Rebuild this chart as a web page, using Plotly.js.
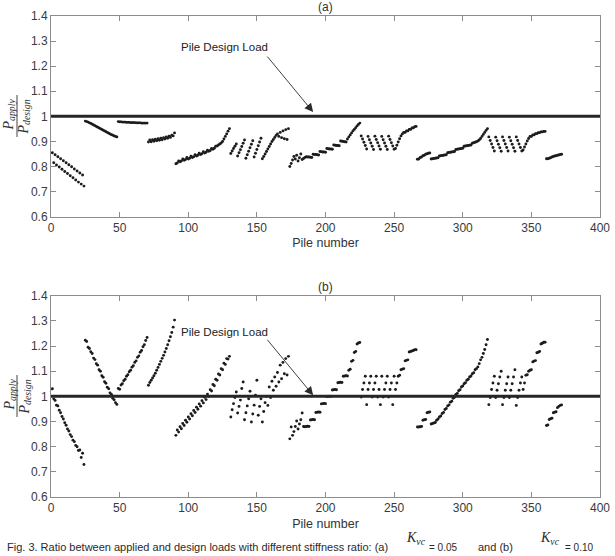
<!DOCTYPE html>
<html>
<head>
<meta charset="utf-8">
<script src="https://cdn.plot.ly/plotly-3.0.1.min.js"></script>
<style>
  html, body { margin: 0; padding: 0; background: #ffffff; }
  #chart { width: 615px; height: 556px; }
</style>
</head>
<body>
<div id="chart"></div>
<script>
// First pile number of each pile group (same grouping in both cases)
const groupStart = [1, 25, 49, 71, 91, 131, 174, 226, 267, 319, 361];

// Design load ratio
const designRatio = 1.0;

// (a) P_apply / P_design per pile group
const a01 = [0.855,0.815,0.847,0.806,0.839,0.798,0.831,0.789,0.823,0.780,0.815,0.772,0.807,0.763,0.799,0.755,0.790,0.746,0.782,0.738,0.774,0.730,0.766,0.722];
const a02 = [0.981,0.979,0.977,0.974,0.972,0.969,0.966,0.963,0.960,0.957,0.954,0.951,0.948,0.945,0.942,0.939,0.936,0.933,0.930,0.927,0.925,0.922,0.920,0.918];
const a03 = [0.979,0.978,0.978,0.977,0.977,0.977,0.976,0.976,0.976,0.975,0.975,0.975,0.975,0.974,0.974,0.974,0.974,0.973,0.973,0.973,0.973,0.973];
const a04 = [0.898,0.906,0.899,0.907,0.901,0.909,0.903,0.911,0.905,0.913,0.907,0.915,0.910,0.918,0.913,0.921,0.916,0.925,0.922,0.934];
const a05 = [0.811,0.814,0.822,0.819,0.822,0.830,0.825,0.828,0.836,0.830,0.833,0.841,0.836,0.839,0.847,0.842,0.845,0.853,0.848,0.851,
             0.859,0.854,0.857,0.865,0.861,0.864,0.872,0.869,0.873,0.881,0.882,0.886,0.890,0.894,0.900,0.910,0.920,0.930,0.941,0.951];
const a06 = [0.852,0.862,0.872,0.881,0.890, 0.842,0.855,0.867,0.880,0.893,0.906, 0.833,0.847,0.861,0.875,0.889,0.903,
             0.838,0.853,0.868,0.883,0.898,0.913, 0.831,0.840,0.850,0.860,0.870,0.880,0.890,0.900,0.908,0.916,0.924,
             0.930,0.920,0.936,0.915,0.942,0.911,0.947,0.908,0.951];
const a07 = [0.800,0.812,0.826,0.840,0.830,0.845,0.822,0.835,0.850,0.828,0.832,0.836,
             0.839,0.838,0.838,0.837,0.836, 0.849,0.848,0.848,0.847,0.846, 0.860,0.859,0.858,0.858,0.857,
             0.872,0.871,0.870,0.870,0.869, 0.886,0.885,0.884,0.884,0.883, 0.902,0.901,0.900,0.899,0.898,
             0.910,0.918,0.926,0.934,0.942,0.948,0.955,0.962,0.968,0.973];
const a08 = [0.922,0.910,0.897,0.884,0.870, 0.920,0.907,0.894,0.881,0.868, 0.921,0.908,0.895,0.882,0.869,
             0.920,0.907,0.894,0.881,0.868, 0.921,0.908,0.895,0.882,0.869,
             0.872,0.885,0.898,0.911,0.922,0.930,0.936,0.936,0.942,0.942,0.948,0.948,0.954,0.954,0.959,0.960];
const a09 = [0.829,0.830,0.836,0.838,0.843,0.845,0.849,0.851,0.853,0.854,
             0.830,0.831,0.832,0.833,0.834,0.835, 0.842,0.843,0.844,0.845,0.846,0.847, 0.855,0.856,0.857,0.858,0.859,0.860,
             0.868,0.869,0.870,0.871,0.872,0.873, 0.881,0.882,0.883,0.884,0.885,0.886, 0.893,0.895,0.897,0.899,0.902,0.906,
             0.912,0.920,0.928,0.936,0.944,0.951];
const a10 = [0.918,0.904,0.890,0.876,0.862, 0.917,0.903,0.889,0.875,0.861, 0.918,0.904,0.890,0.876,0.862,
             0.917,0.903,0.889,0.875,0.861, 0.918,0.904,0.890,0.876,0.862,
             0.866,0.878,0.890,0.902,0.912,0.920,0.920,0.926,0.926,0.931,0.931,0.935,0.935,0.938,0.938,0.940,0.940];
const a11 = [0.831,0.831,0.833,0.835,0.838,0.840,0.842,0.843,0.845,0.846,0.848,0.849];

// (b) P_apply / P_design per pile group
const b01 = [1.030,0.990,0.984,0.965,0.962,0.945,0.935,0.920,0.910,0.895,0.885,0.870,0.862,0.848,0.840,0.826,0.820,0.805,0.800,0.785,0.787,0.757,0.774,0.729];
const b02 = [1.223,1.218,1.195,1.190,1.177,1.170,1.152,1.146,1.130,1.124,1.106,1.100,1.082,1.076,1.058,1.052,1.036,1.030,1.014,1.008,0.992,0.986,0.975,0.968];
const b03 = [1.031,1.028,1.045,1.050,1.062,1.068,1.080,1.086,1.098,1.104,1.116,1.122,1.135,1.141,1.155,1.161,1.175,1.182,1.197,1.205,1.222,1.234];
const b04 = [1.044,1.055,1.064,1.073,1.082,1.092,1.104,1.115,1.127,1.139,1.151,1.163,1.176,1.190,1.205,1.221,1.237,1.254,1.275,1.303];
const b05 = [0.845,0.866,0.858,0.879,0.871,0.892,0.884,0.905,0.897,0.918,0.910,0.931,0.923,0.944,0.936,0.957,0.949,0.970,0.961,0.983,
             0.974,0.996,0.987,1.009,1.000,1.026,1.021,1.047,1.042,1.068,1.064,1.089,1.085,1.110,1.106,1.132,1.127,1.150,1.148,1.159];
const b06 = [0.918,0.947,0.971,0.995,1.017, 0.934,0.960,0.985,1.031,1.057, 0.907,0.935,0.962,0.990,1.020, 0.898,0.930,0.965,1.005,1.064,
             0.925,0.960,0.990,0.898,0.940,0.975,1.000,0.964,1.037,0.995,1.060,1.024,1.077,1.040,1.095,1.057,1.124,1.070,1.135,1.090,1.150,1.085,1.159];
const b07 = [0.831,0.878,0.845,0.860,0.880,0.902,0.870,0.890,0.907,0.934,0.880,
             0.879,0.880,0.881,0.880, 0.906,0.907,0.908,0.907, 0.936,0.937,0.938,0.937, 0.970,0.971,0.972,0.971,
             0.999,1.000,1.001,1.000, 1.025,1.026,1.027,1.026, 1.054,1.055,1.056,1.055, 1.080,1.081,1.082,1.081,
             1.104,1.108,1.139,1.143,1.174,1.178,1.208,1.212,1.214];
const b08 = [0.997,1.027,1.053,1.080, 0.967,1.027,1.053,1.080, 0.997,1.027,1.053,1.080, 0.997,1.027,0.967,1.080,
             0.997,1.027,1.053,1.080, 0.997,1.027,1.053,0.967,1.080,
             1.027,1.053,1.080,1.084,1.106,1.108,1.110,1.141,1.143,1.145,1.176,1.178,1.180,1.182,1.185,1.185];
const b09 = [0.878,0.878,0.879,0.880,0.905,0.907,0.908,0.935,0.937,0.938,0.890,0.892,0.894,0.896,
             0.905,0.910,0.918,0.922,0.932,0.936,0.948,0.952,0.962,0.966,0.977,0.981,0.992,0.996,1.008,1.012,1.022,1.026,1.037,1.041,
             1.050,1.054,1.064,1.068,1.077,1.081,1.090,1.094,1.106,1.110,1.117,1.130,1.145,1.155,1.170,1.186,1.205,1.226];
const b10 = [0.967,0.995,1.027,1.053,1.080, 0.995,1.024,1.050,1.077,1.100, 0.967,0.995,1.024,1.050,1.077,
             0.995,1.024,1.050,1.077,1.106, 0.964,0.995,1.024,1.053,1.077,
             1.027,1.053,1.084,1.086,1.100,1.104,1.106,1.137,1.140,1.142,1.173,1.175,1.178,1.208,1.211,1.215,1.215];
const b11 = [0.884,0.886,0.908,0.911,0.913,0.935,0.937,0.939,0.955,0.960,0.964,0.966];

const groupsA = [a01, a02, a03, a04, a05, a06, a07, a08, a09, a10, a11];
const groupsB = [b01, b02, b03, b04, b05, b06, b07, b08, b09, b10, b11];

// Pile numbers run on from each group's first pile
function pileNumbers(groups) {
  const out = [];
  groups.forEach((g, k) => g.forEach((_, i) => out.push(groupStart[k] + i)));
  return out;
}
const flat = groups => [].concat(...groups);

// Page geometry (pixels) and conversion to paper coordinates
const W = 615, H = 556;
const M = {l: 51, r: 15, t: 16, b: 59};
const plotW = W - M.l - M.r, plotH = H - M.t - M.b;
const px = v => (v - M.l) / plotW;
const py = v => (H - M.b - v) / plotH;

const sans = 'Liberation Sans, Arial, Helvetica, sans-serif';
const serif = 'Liberation Serif, Times New Roman, serif';
const axisGrey = '#8c8c8c';
const dotColour = '#1c1c1c';

function xAxis(anchor) {
  return {
    anchor: anchor, domain: [0, 1], range: [0, 400], tick0: 0, dtick: 50,
    showline: true, linecolor: axisGrey, linewidth: 1, mirror: 'ticks',
    ticks: 'inside', ticklen: 5, tickcolor: axisGrey, tickwidth: 1,
    showgrid: false, zeroline: false,
    tickfont: {family: sans, size: 12, color: '#3a3a3a'},
    title: {text: 'Pile number', font: {family: sans, size: 12.5, color: '#333'}, standoff: 4}
  };
}
function yAxis(anchor, domain) {
  return {
    anchor: anchor, domain: domain, range: [0.6, 1.4], tick0: 0.6, dtick: 0.1,
    showline: true, linecolor: axisGrey, linewidth: 1, mirror: 'ticks',
    ticks: 'inside', ticklen: 5, tickcolor: axisGrey, tickwidth: 1,
    showgrid: false, zeroline: false,
    tickfont: {family: sans, size: 12, color: '#3a3a3a'}
  };
}

const dotMarker = {size: 2.9, color: dotColour, line: {width: 0}};

const traces = [
  {x: pileNumbers(groupsA), y: flat(groupsA), type: 'scatter', mode: 'markers',
   marker: dotMarker, xaxis: 'x', yaxis: 'y', hoverinfo: 'x+y'},
  {x: pileNumbers(groupsB), y: flat(groupsB), type: 'scatter', mode: 'markers',
   marker: dotMarker, xaxis: 'x2', yaxis: 'y2', hoverinfo: 'x+y'}
];

// Design load line across each panel
const designLine = (yref) => ({
  type: 'line', xref: 'paper', x0: 0, x1: 1, yref: yref, y0: designRatio, y1: designRatio,
  line: {color: '#262626', width: 3}, layer: 'above'
});

// Fraction label on the y axis: P_apply over P_design
function fractionLabel(centrePx) {
  const anns = [
    {xref: 'paper', yref: 'paper', x: px(9.5), y: py(centrePx - 1), textangle: -90,
     text: '<i>P</i><sub><i>apply</i></sub>', showarrow: false,
     font: {family: serif, size: 14, color: '#333'}, xanchor: 'center', yanchor: 'middle'},
    {xref: 'paper', yref: 'paper', x: px(24.5), y: py(centrePx + 1), textangle: -90,
     text: '<i>P</i><sub><i>design</i></sub>', showarrow: false,
     font: {family: serif, size: 14, color: '#333'}, xanchor: 'center', yanchor: 'middle'}
  ];
  const bar = {type: 'line', xref: 'paper', yref: 'paper',
    x0: px(17), x1: px(17), y0: py(centrePx - 21), y1: py(centrePx + 21),
    line: {color: '#444', width: 1}};
  return {anns, bar};
}
const fracA = fractionLabel(116);
const fracB = fractionLabel(396);

// Arrow pointing at the design load line, with its label
function designLabel(xref, yref, tipX, tipY, textCentreY) {
  return [
    {xref: xref, yref: yref, x: tipX, y: tipY, ax: -47, ay: -57, axref: 'pixel', ayref: 'pixel',
     text: '', showarrow: true, arrowhead: 2, arrowsize: 1.9, arrowwidth: 0.9, arrowcolor: '#2a2a2a'},
    {xref: 'paper', yref: 'paper', x: px(224), y: py(textCentreY), text: 'Pile Design Load',
     showarrow: false, font: {family: sans, size: 11.5, color: '#222'}, xanchor: 'center', yanchor: 'middle'}
  ];
}

const panelTitle = (txt, yPx) => ({
  xref: 'paper', yref: 'paper', x: px(325), y: py(yPx), text: txt, showarrow: false,
  font: {family: sans, size: 12, color: '#333'}, xanchor: 'center', yanchor: 'middle'
});

// Figure caption along the bottom edge
const capFont = {family: sans, size: 11, color: '#2a2a2a'};
const caption = [
  {xref: 'paper', yref: 'paper', x: px(5), y: py(547), xanchor: 'left', yanchor: 'middle', showarrow: false,
   text: 'Fig. 3. Ratio between applied and design loads with different stiffness ratio: (a)', font: capFont},
  {xref: 'paper', yref: 'paper', x: px(404), y: py(538), xanchor: 'left', yanchor: 'middle', showarrow: false,
   text: '<i>K</i><sub><i>vc</i></sub>', font: {family: serif, size: 14, color: '#2a2a2a'}},
  {xref: 'paper', yref: 'paper', x: px(427), y: py(547.5), xanchor: 'left', yanchor: 'middle', showarrow: false,
   text: '= 0.05', font: {family: sans, size: 10, color: '#2a2a2a'}},
  {xref: 'paper', yref: 'paper', x: px(476), y: py(547), xanchor: 'left', yanchor: 'middle', showarrow: false,
   text: 'and (b)', font: capFont},
  {xref: 'paper', yref: 'paper', x: px(538), y: py(538), xanchor: 'left', yanchor: 'middle', showarrow: false,
   text: '<i>K</i><sub><i>vc</i></sub>', font: {family: serif, size: 14, color: '#2a2a2a'}},
  {xref: 'paper', yref: 'paper', x: px(563), y: py(547.5), xanchor: 'left', yanchor: 'middle', showarrow: false,
   text: '= 0.10', font: {family: sans, size: 10, color: '#2a2a2a'}}
];

const layout = {
  width: W, height: H,
  margin: {l: M.l, r: M.r, t: M.t, b: M.b, pad: 0},
  paper_bgcolor: '#ffffff', plot_bgcolor: '#ffffff',
  showlegend: false,
  xaxis: xAxis('y'),
  yaxis: yAxis('x', [py(216.7), 1]),
  xaxis2: xAxis('y2'),
  yaxis2: yAxis('x2', [0, py(295.7)]),
  shapes: [designLine('y'), designLine('y2'), fracA.bar, fracB.bar],
  annotations: [].concat(
    fracA.anns, fracB.anns,
    designLabel('x', 'y', 191, 1.017, 47),
    designLabel('x2', 'y2', 191, 1.004, 331.5),
    [panelTitle('(a)', 7), panelTitle('(b)', 287)],
    caption
  )
};

Plotly.newPlot('chart', traces, layout, {displayModeBar: false, staticPlot: true});
</script>
</body>
</html>
